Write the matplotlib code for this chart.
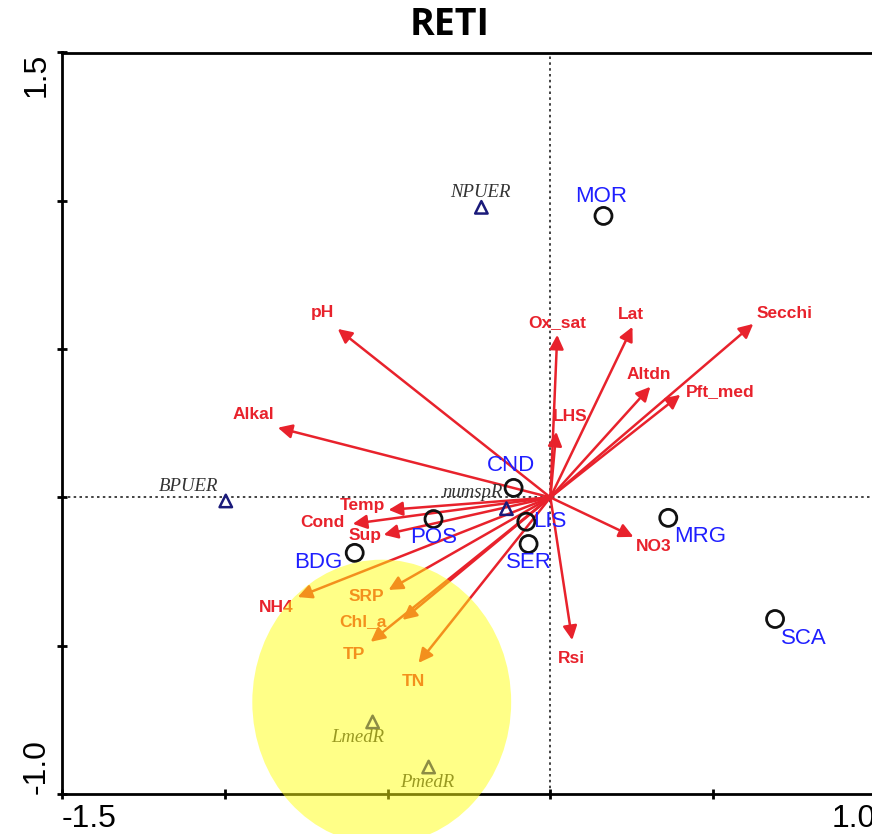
import matplotlib
matplotlib.use("Agg")
import matplotlib.pyplot as plt
from matplotlib.patches import Ellipse

# Environmental vectors (arrow tips)
env_names = ['pH', 'Alkal', 'Temp', 'Cond', 'Sup', 'NH4', 'SRP', 'Chl_a', 'TP', 'TN',
             'Ox_sat', 'LHS', 'Lat', 'Altdn', 'Pft_med', 'Secchi', 'NO3', 'Rsi']
env_x = [-0.653, -0.837, -0.497, -0.607, -0.512, -0.776, -0.497, -0.454, -0.552, -0.405,
         0.021, 0.018, 0.252, 0.307, 0.399, 0.623, 0.255, 0.067]
env_y = [0.568, 0.235, -0.042, -0.089, -0.126, -0.336, -0.312, -0.413, -0.487, -0.558,
         0.548, 0.221, 0.575, 0.373, 0.346, 0.585, -0.133, -0.481]

# Sites
site_names = ['MOR', 'CND', 'POS', 'LIS', 'SER', 'BDG', 'MRG', 'SCA']
site_x = [0.163, -0.113, -0.359, -0.074, -0.067, -0.601, 0.362, 0.690]
site_y = [0.949, 0.032, -0.073, -0.082, -0.157, -0.187, -0.069, -0.410]

# Response variables
resp_names = ['NPUER', 'BPUER', 'numspR', 'LmedR', 'PmedR']
resp_x = [-0.212, -0.997, -0.135, -0.546, -0.374]
resp_y = [0.978, -0.012, -0.038, -0.757, -0.909]

red = '#e8222c'
blue = '#1f1fff'

fig = plt.figure(figsize=(8.72, 8.34), dpi=100)
ax = fig.add_axes([62 / 872, 40 / 834, (876 - 62) / 872, (794 - 52.5) / 834])
ax.set_xlim(-1.5, 1.0)
ax.set_ylim(-1.0, 1.5)

ax.axhline(0, color='#222222', ls=(0, (1.5, 2)), lw=1.2, zorder=1)
ax.axvline(0, color='#222222', ls=(0, (1.5, 2)), lw=1.2, zorder=1)

# label offsets in pixels (dx, dy)
env_off = [(-15, 16), (-24, 13), (-26, 4), (-30, 1), (-19, -1), (-22, -10), (-22, -7),
           (-40, -2), (-17, -13), (-5, -19), (0, 12), (14, 15), (-2, 12), (-2, 12),
           (40, 3), (31, 10), (20, -10), (-1, -18)]
for name, x, y, off in zip(env_names, env_x, env_y, env_off):
    ax.annotate('', xy=(x, y), xytext=(0, 0),
                arrowprops=dict(arrowstyle='-|>', color=red, lw=1.8,
                                mutation_scale=21, shrinkA=0, shrinkB=0), zorder=3)
    ax.annotate(name, xy=(x, y), xytext=off, textcoords='offset pixels',
                ha='center', va='center', color=red, fontsize=12.5,
                fontweight='bold', family='Liberation Sans', zorder=4)

site_off = [(-2, 19), (-3, 22), (0, -18), (24, 0), (0, -19), (-36, -10), (32, -19), (29, -19)]
ax.scatter(site_x, site_y, s=150, facecolors='none', edgecolors='#111111',
           linewidths=2, zorder=5)
for name, x, y, off in zip(site_names, site_x, site_y, site_off):
    ax.annotate(name, xy=(x, y), xytext=off, textcoords='offset pixels',
                ha='center', va='center', color=blue, fontsize=16,
                family='Liberation Sans', zorder=6)

resp_off = [(-1, 15), (-37, 14), (-34, 16), (-15, -16), (-1, -15)]
ax.scatter(resp_x, resp_y, s=80, marker='^', facecolors='none', edgecolors='#1a1a7a',
           linewidths=1.8, zorder=5)
for name, x, y, off in zip(resp_names, resp_x, resp_y, resp_off):
    ax.annotate(name, xy=(x, y), xytext=off, textcoords='offset pixels',
                ha='center', va='center', color='#333333', fontsize=13.5,
                style='italic', family='Liberation Serif', zorder=6)

# highlighted group
ax.add_patch(Ellipse((-0.518, -0.69), 0.795, 0.96, facecolor='#ffff10', alpha=0.5,
                     edgecolor='none', zorder=7, clip_on=False))

for side in ['left', 'bottom', 'top']:
    ax.spines[side].set_linewidth(2)
ax.spines['right'].set_visible(False)

ax.set_xticks([-1.5, -1.0, -0.5, 0, 0.5, 1.0])
ax.set_xticklabels(['-1.5', '', '', '', '', '1.0'])
ax.set_yticks([-1.0, -0.5, 0, 0.5, 1.0, 1.5])
ax.set_yticklabels(['-1.0', '', '', '', '', '1.5'])
ax.tick_params(direction='inout', length=7, width=2, labelsize=23, pad=4)
for lab in ax.get_xticklabels():
    lab.set_family('Liberation Sans')
ax.get_xticklabels()[0].set_ha('left')
ax.get_xticklabels()[-1].set_ha('right')
for lab in ax.get_yticklabels():
    lab.set_family('Liberation Sans')
    lab.set_rotation(90)
ax.get_yticklabels()[0].set_va('bottom')
ax.get_yticklabels()[-1].set_va('top')

fig.text(450 / 872, 1 - 25 / 834, 'RETI', ha='center', va='center',
         fontsize=27, fontweight='bold', family='Open Sans')

fig.savefig('out.png', dpi=100)
